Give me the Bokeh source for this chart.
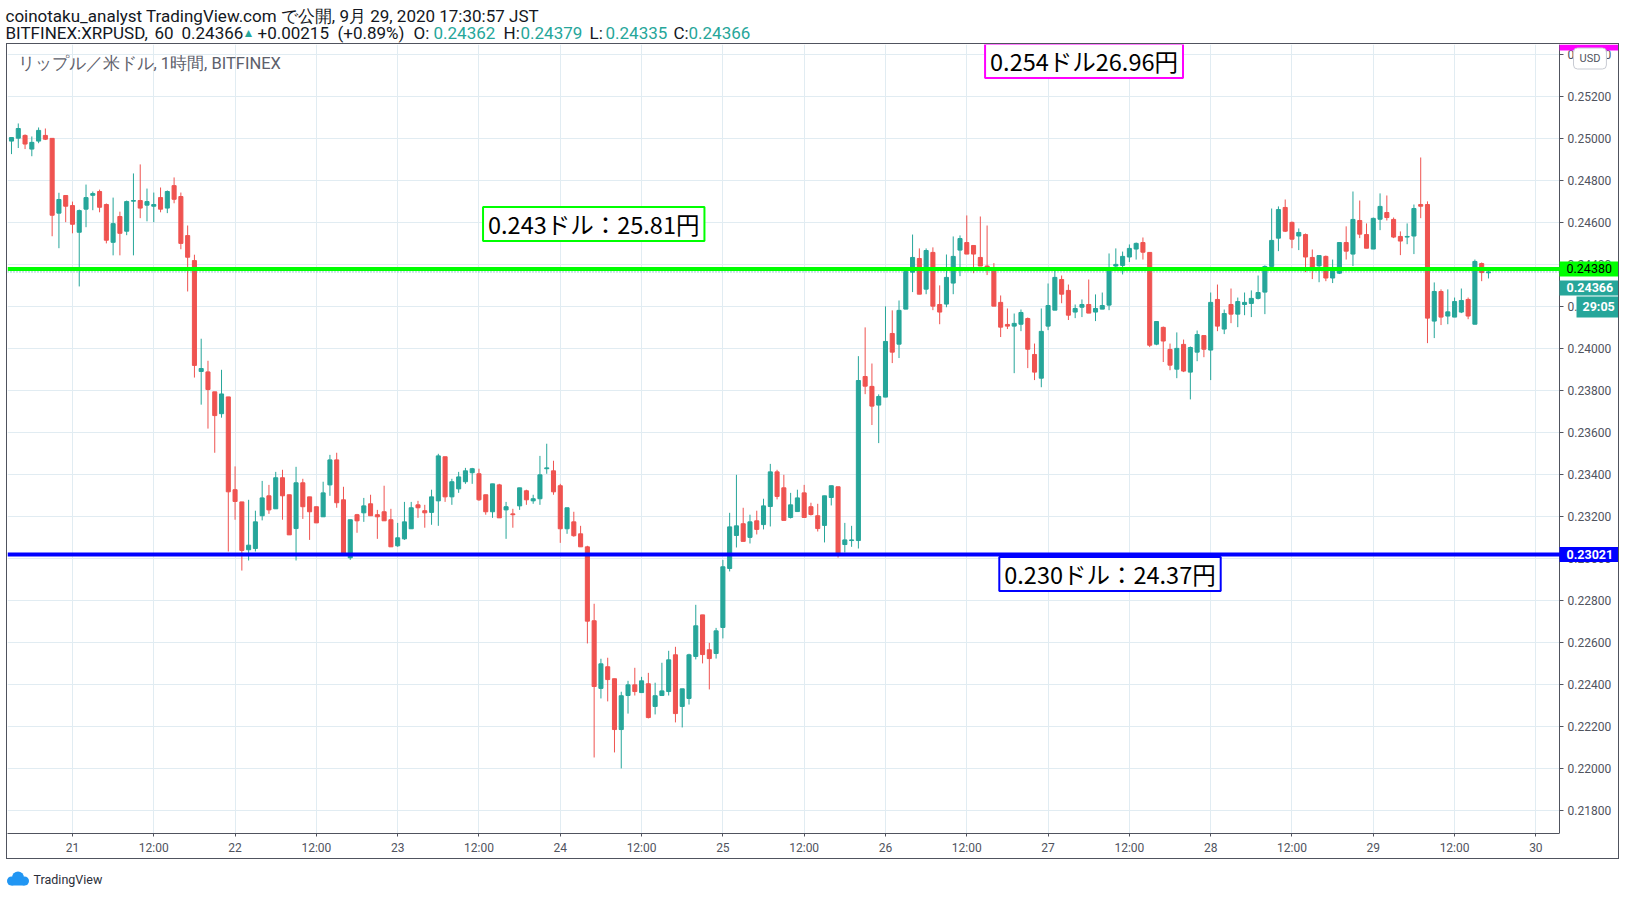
from bokeh.plotting import figure
from bokeh.models import (Range1d, FixedTicker, Label, Span, ColumnDataSource,
                          NumeralTickFormatter, BoxAnnotation, Spacer)
from bokeh.layouts import column, row
from bokeh.embed import file_html
from bokeh.resources import INLINE
from bokeh.core.properties import value

# ---------------- data (XRPUSD 1h, BITFINEX) ----------------
# first candle: 2020-09-20 15:00 JST, expressed as hours since 2020-09-20 00:00
first_hour = 15

opens = [
0.24989,0.25003,0.25016,0.24951,0.24989,0.25016,0.25002,0.24646,0.24730,0.24682,
0.24555,0.24665,0.24731,0.24749,0.24687,0.24507,0.24630,0.24560,0.24703,0.24706,
0.24684,0.24679,0.24720,0.24670,0.24777,0.24725,0.24539,0.24420,0.23892,0.23890,
0.23795,0.23691,0.23771,0.23329,0.23271,0.23043,0.23049,0.23205,0.23300,0.23238,
0.23386,0.23305,0.23144,0.23362,0.23295,0.23248,0.23200,0.23352,0.23471,0.23281,
0.23005,0.23210,0.23219,0.23262,0.23210,0.23224,0.23186,0.23062,0.23095,0.23143,
0.23257,0.23229,0.23221,0.23276,0.23486,0.23295,0.23333,0.23367,0.23410,0.23405,
0.23305,0.23224,0.23352,0.23233,0.23214,0.23252,0.23324,0.23276,0.23286,0.23429,
0.23419,0.23348,0.23143,0.23176,0.23119,0.23057,0.22705,0.22383,0.22486,0.22429,
0.22187,0.22349,0.22400,0.22363,0.22405,0.22297,0.22349,0.22368,0.22543,0.22297,
0.22335,0.22535,0.22733,0.22567,0.22549,0.22673,0.22954,0.23111,0.23167,0.23102,
0.23181,0.23163,0.23249,0.23414,0.23338,0.23197,0.23225,0.23314,0.23248,0.23205,
0.23159,0.23292,0.23343,0.23068,0.23087,0.23087,0.23868,0.23821,0.23732,0.23770,
0.24073,0.24022,0.24189,0.24365,0.24430,0.24284,0.24459,0.24211,0.24213,0.24313,
0.24470,0.24506,0.24492,0.24435,0.24394,0.24375,0.24221,0.24116,0.24108,0.24117,
0.24144,0.23973,0.23860,0.24108,0.24184,0.24330,0.24278,0.24175,0.24198,0.24211,
0.24175,0.24189,0.24208,0.24394,0.24397,0.24437,0.24475,0.24506,0.24459,0.24022,
0.24102,0.23997,0.23903,0.24021,0.23889,0.23984,0.24063,0.23994,0.24235,0.24094,
0.24211,0.24165,0.24211,0.24216,0.24240,0.24270,0.24392,0.24527,0.24673,0.24602,
0.24537,0.24544,0.24435,0.24395,0.24440,0.24337,0.24360,0.24506,0.24451,0.24611,
0.24544,0.24475,0.24617,0.24649,0.24616,0.24535,0.24532,0.24537,0.24687,0.24687,
0.24132,0.24273,0.24156,0.24151,0.24175,0.24235,0.24117,0.24406,0.24362]

highs = [
0.25006,0.25073,0.25021,0.25011,0.25054,0.25049,0.25002,0.24743,0.24730,0.24701,
0.24663,0.24782,0.24749,0.24758,0.24692,0.24720,0.24653,0.24706,0.24835,0.24878,
0.24763,0.24744,0.24768,0.24754,0.24816,0.24744,0.24587,0.24448,0.24048,0.23943,
0.23795,0.23900,0.23771,0.23440,0.23271,0.23281,0.23229,0.23371,0.23352,0.23414,
0.23424,0.23305,0.23438,0.23381,0.23295,0.23248,0.23367,0.23495,0.23505,0.23343,
0.23186,0.23214,0.23290,0.23305,0.23233,0.23348,0.23238,0.23171,0.23271,0.23271,
0.23276,0.23257,0.23329,0.23500,0.23486,0.23381,0.23414,0.23433,0.23433,0.23429,
0.23305,0.23357,0.23357,0.23271,0.23238,0.23338,0.23329,0.23305,0.23490,0.23548,
0.23467,0.23357,0.23243,0.23224,0.23157,0.23062,0.22786,0.22524,0.22529,0.22429,
0.22367,0.22419,0.22481,0.22438,0.22457,0.22410,0.22505,0.22562,0.22581,0.22381,
0.22548,0.22781,0.22733,0.22600,0.22671,0.22995,0.23219,0.23400,0.23243,0.23210,
0.23229,0.23286,0.23452,0.23424,0.23400,0.23314,0.23329,0.23352,0.23267,0.23262,
0.23300,0.23348,0.23343,0.23171,0.23157,0.23965,0.24102,0.23930,0.23783,0.24202,
0.24183,0.24230,0.24370,0.24544,0.24478,0.24478,0.24483,0.24302,0.24449,0.24535,
0.24540,0.24635,0.24492,0.24630,0.24587,0.24408,0.24254,0.24192,0.24168,0.24187,
0.24149,0.24025,0.24192,0.24311,0.24373,0.24349,0.24306,0.24211,0.24235,0.24330,
0.24259,0.24268,0.24454,0.24478,0.24463,0.24497,0.24506,0.24530,0.24459,0.24130,
0.24106,0.24025,0.24078,0.24044,0.24011,0.24087,0.24063,0.24268,0.24306,0.24187,
0.24287,0.24244,0.24268,0.24278,0.24349,0.24397,0.24668,0.24678,0.24711,0.24606,
0.24573,0.24549,0.24473,0.24444,0.24444,0.24425,0.24506,0.24583,0.24749,0.24706,
0.24597,0.24625,0.24740,0.24730,0.24625,0.24559,0.24597,0.24687,0.24911,0.24702,
0.24316,0.24283,0.24283,0.24244,0.24287,0.24244,0.24425,0.24411,0.24379]

lows = [
0.24927,0.24956,0.24951,0.24917,0.24979,0.24994,0.24536,0.24479,0.24603,0.24550,
0.24297,0.24579,0.24660,0.24650,0.24502,0.24445,0.24445,0.24541,0.24445,0.24622,
0.24607,0.24603,0.24650,0.24646,0.24693,0.24474,0.24273,0.23863,0.23734,0.23620,
0.23505,0.23672,0.23035,0.23186,0.22944,0.22992,0.23035,0.23183,0.23214,0.23238,
0.23186,0.23114,0.22992,0.23190,0.23090,0.23171,0.23200,0.23300,0.23243,0.23024,
0.22995,0.23124,0.23176,0.23205,0.23095,0.23181,0.23057,0.23057,0.23090,0.23143,
0.23195,0.23148,0.23162,0.23157,0.23271,0.23257,0.23314,0.23357,0.23357,0.23276,
0.23210,0.23195,0.23195,0.23095,0.23148,0.23233,0.23257,0.23262,0.23257,0.23405,
0.23305,0.23076,0.23119,0.23105,0.23057,0.22597,0.22054,0.22335,0.22321,0.22078,
0.22002,0.22263,0.22349,0.22363,0.22240,0.22259,0.22349,0.22349,0.22221,0.22197,
0.22306,0.22521,0.22502,0.22378,0.22525,0.22621,0.22940,0.23054,0.23083,0.23073,
0.23116,0.23140,0.23154,0.23283,0.23183,0.23192,0.23225,0.23197,0.23206,0.23130,
0.23078,0.23254,0.23006,0.23030,0.23057,0.23049,0.23784,0.23637,0.23551,0.23770,
0.23932,0.23956,0.24189,0.24270,0.24260,0.24260,0.24184,0.24117,0.24198,0.24260,
0.24346,0.24451,0.24360,0.24394,0.24351,0.24203,0.24056,0.24094,0.23884,0.24084,
0.23908,0.23851,0.23817,0.24089,0.24184,0.24217,0.24137,0.24146,0.24151,0.24170,
0.24132,0.24189,0.24184,0.24373,0.24354,0.24413,0.24425,0.24425,0.24008,0.24017,
0.23937,0.23898,0.23860,0.23889,0.23759,0.23941,0.23960,0.23851,0.24084,0.24070,
0.24122,0.24103,0.24160,0.24151,0.24235,0.24165,0.24389,0.24465,0.24556,0.24479,
0.24470,0.24365,0.24332,0.24317,0.24322,0.24313,0.24356,0.24425,0.24394,0.24527,
0.24479,0.24475,0.24565,0.24611,0.24527,0.24446,0.24498,0.24451,0.24622,0.24027,
0.24051,0.24113,0.24117,0.24151,0.24170,0.24141,0.24117,0.24322,0.24335]

closes = [
0.25006,0.25049,0.24975,0.24983,0.25040,0.24998,0.24636,0.24711,0.24679,0.24593,
0.24658,0.24720,0.24739,0.24674,0.24517,0.24596,0.24550,0.24701,0.24706,0.24670,
0.24701,0.24687,0.24665,0.24749,0.24712,0.24502,0.24436,0.23921,0.23906,0.23806,
0.23682,0.23785,0.23319,0.23273,0.23040,0.23065,0.23176,0.23290,0.23233,0.23386,
0.23300,0.23114,0.23362,0.23248,0.23224,0.23171,0.23314,0.23471,0.23267,0.23024,
0.23186,0.23181,0.23252,0.23205,0.23200,0.23181,0.23057,0.23100,0.23176,0.23243,
0.23243,0.23219,0.23295,0.23490,0.23295,0.23367,0.23390,0.23419,0.23429,0.23281,
0.23224,0.23357,0.23195,0.23248,0.23210,0.23338,0.23281,0.23286,0.23400,0.23433,
0.23319,0.23143,0.23243,0.23110,0.23057,0.22703,0.22392,0.22500,0.22425,0.22187,
0.22348,0.22400,0.22368,0.22419,0.22244,0.22348,0.22371,0.22519,0.22263,0.22381,
0.22543,0.22681,0.22544,0.22525,0.22657,0.22962,0.23152,0.23157,0.23083,0.23176,
0.23140,0.23252,0.23414,0.23297,0.23183,0.23257,0.23290,0.23197,0.23211,0.23144,
0.23300,0.23348,0.23019,0.23090,0.23090,0.23849,0.23822,0.23727,0.23773,0.24035,
0.23984,0.24183,0.24368,0.24435,0.24260,0.24468,0.24203,0.24175,0.24340,0.24440,
0.24525,0.24451,0.24451,0.24394,0.24378,0.24203,0.24103,0.24108,0.24121,0.24173,
0.23998,0.23889,0.24083,0.24206,0.24340,0.24260,0.24160,0.24192,0.24211,0.24170,
0.24192,0.24206,0.24373,0.24402,0.24440,0.24478,0.24502,0.24460,0.24017,0.24130,
0.24037,0.23922,0.24002,0.23894,0.24006,0.24068,0.23998,0.24221,0.24108,0.24168,
0.24165,0.24225,0.24221,0.24240,0.24268,0.24392,0.24516,0.24663,0.24560,0.24522,
0.24554,0.24437,0.24386,0.24444,0.24337,0.24387,0.24506,0.24465,0.24616,0.24546,
0.24479,0.24621,0.24678,0.24625,0.24532,0.24513,0.24535,0.24668,0.24679,0.24146,
0.24273,0.24151,0.24176,0.24225,0.24230,0.24156,0.24416,0.24363,0.24366]

price_ticks = [0.218, 0.220, 0.222, 0.224, 0.226, 0.228, 0.230, 0.232, 0.234, 0.236,
               0.238, 0.240, 0.242, 0.244, 0.246, 0.248, 0.250, 0.252, 0.254]
time_ticks = [24, 36, 48, 60, 72, 84, 96, 108, 120, 132, 144, 156, 168, 180, 192, 204, 216, 228, 240]
time_labels = ["21", "12:00", "22", "12:00", "23", "12:00", "24", "12:00", "25", "12:00",
               "26", "12:00", "27", "12:00", "28", "12:00", "29", "12:00", "30"]

# horizontal levels drawn on the chart
level_prices = [0.2438, 0.23021]
level_colors = ["#00ff00", "#0000ff"]
level_text_colors = ["#000000", "#ffffff"]
level_text_styles = ["normal", "bold"]
top_level_price = 0.25463          # magenta level, above the visible range
top_level_color = "#ff00ff"
last_price = 0.24366
countdown = "29:05"

# text notes (anchored at hour, price)
note_texts = ["0.254ドル26.96円", "0.243ドル：25.81円", "0.230ドル：24.37円"]
note_hours = [158.7, 84.6, 160.8]
note_prices = [0.25371, 0.24594, 0.22928]
note_colors = ["#ff00ff", "#00ff00", "#0000ff"]

header_line1 = "coinotaku_analyst TradingView.com で公開, 9月 29, 2020 17:30:57 JST"
header_line2 = ["BITFINEX:XRPUSD,", "60", "0.24366", "▲", "+0.00215", "(+0.89%)", "O:", "0.24362",
                "H:", "0.24379", "L:", "0.24335", "C:", "0.24366"]
legend_text = "リップル／米ドル, 1時間, BITFINEX"

# ---------------- styling / layout ----------------
UP = "#26a69a"
DOWN = "#ef5350"
GRID = "#e1ecf2"
AXIS = "#50535e"
TXT = "#131722"
FONT = "Roboto"
W = 1621
X_START, AXIS_HOUR, X_END = 14.41, 243.49, 252.49
Y_START, Y_END = 0.21692, 0.25449

n = len(opens)
hours = [first_hour + i for i in range(n)]
colors = [UP if c >= o else DOWN for o, c in zip(opens, closes)]
src = ColumnDataSource(dict(
    x=hours, open=opens, high=highs, low=lows, close=closes,
    top=[max(o, c) for o, c in zip(opens, closes)],
    bottom=[min(o, c) for o, c in zip(opens, closes)],
    color=colors))

# ---------------- header ----------------
hdr = figure(width=W, height=43, x_range=Range1d(0, W), y_range=Range1d(0, 43),
             output_backend="svg", toolbar_location=None, min_border=0)
hdr.axis.visible = False
hdr.grid.visible = False
hdr.outline_line_color = None
hdr.background_fill_color = "white"
hdr.border_fill_color = "white"
hdr.text(x=[5], y=[28], text=[header_line1], text_color=TXT, text_font=value(FONT),
         text_font_size="17px", text_baseline="middle")
seg_x = [5, 154, 181, 242, 257, 337, 413, 433, 503, 520, 589, 605, 673, 688]
seg_c = [TXT, TXT, TXT, UP, TXT, TXT, TXT, UP, TXT, UP, TXT, UP, TXT, UP]
seg_s = ["17px"] * 3 + ["12px"] + ["17px"] * 10
hdr.text(x=seg_x, y=[11] * len(seg_x), text=header_line2, text_color=seg_c,
         text_font=value(FONT), text_font_size=seg_s, text_baseline="middle")

# ---------------- main chart ----------------
p = figure(width=1613, height=816, x_range=Range1d(X_START, X_END), y_range=Range1d(Y_START, Y_END),
           output_backend="svg", toolbar_location=None, y_axis_location="right",
           min_border_left=0, min_border_top=0, min_border_right=0, min_border_bottom=27)
p.styles = {"border": "1px solid #50535e"}
p.background_fill_color = "white"
p.border_fill_color = "white"
p.outline_line_color = None

yt = FixedTicker(ticks=price_ticks)
xt = FixedTicker(ticks=time_ticks)
p.yaxis.ticker = yt
p.xaxis.ticker = xt
p.ygrid.ticker = yt
p.xgrid.ticker = xt
p.grid.grid_line_color = GRID
p.grid.grid_line_width = 1

p.yaxis.fixed_location = AXIS_HOUR
p.xaxis.bounds = (X_START, AXIS_HOUR)
p.yaxis.formatter = NumeralTickFormatter(format="0.00000")
p.xaxis.major_label_overrides = {t: l for t, l in zip(time_ticks, time_labels)}
for ax in (p.xaxis[0], p.yaxis[0]):
    ax.axis_line_color = AXIS
    ax.major_tick_line_color = AXIS
    ax.minor_tick_line_color = None
    ax.major_tick_in = 0
    ax.major_tick_out = 4
    ax.major_label_text_color = AXIS
    ax.major_label_text_font = FONT
    ax.major_label_text_font_size = "12px"
    ax.major_label_standoff = 4
p.xaxis.major_tick_out = 3

# white price-scale background (covers the grid right of the scale line)
p.add_layout(BoxAnnotation(left=AXIS_HOUR, fill_color="white", fill_alpha=1.0,
                           line_color=None, level="underlay"))

p.segment(x0="x", y0="low", x1="x", y1="high", line_color="color", line_width=1, source=src)
p.vbar(x="x", width=0.6, top="top", bottom="bottom", fill_color="color",
       line_color="color", line_width=1, source=src)

p.add_layout(Span(location=last_price, dimension="width", line_color=UP,
                  line_width=1, line_dash="1 2"))
for lp, lc in zip(level_prices, level_colors):
    p.add_layout(Span(location=lp, dimension="width", line_color=lc, line_width=4))

# notes
for t, h, pr, c in zip(note_texts, note_hours, note_prices, note_colors):
    p.add_layout(Label(x=h, y=pr, text=t, text_font="Noto Sans CJK JP", text_font_size="23.5px",
                       text_color="#000000", text_align="left", text_baseline="middle",
                       background_fill_color="white", border_line_color=c, border_line_width=2,
                       padding=dict(left=5, right=5, top=0, bottom=0)))

# legend text
p.add_layout(Label(x=10, y=770, x_units="screen", y_units="screen", text=legend_text,
                   text_font=FONT, text_font_size="16.5px", text_color="#5d606b",
                   text_baseline="middle"))

# price-scale labels
for lp, lc, tc, ts in zip(level_prices, level_colors, level_text_colors, level_text_styles):
    p.add_layout(Label(x=AXIS_HOUR, y=lp, text="%.5f" % lp, text_font=FONT,
                       text_font_size="12.5px", text_font_style=ts, text_color=tc,
                       text_align="left", text_baseline="middle", background_fill_color=lc,
                       padding=dict(left=7, right=12, top=3, bottom=3)))
p.add_layout(Label(x=AXIS_HOUR, y=last_price, y_offset=-16, text="%.5f" % last_price,
                   text_font=FONT, text_font_size="12.5px", text_font_style="bold",
                   text_color="white", text_align="left", text_baseline="middle",
                   background_fill_color=UP, padding=dict(left=7, right=12, top=3, bottom=3)))
p.add_layout(Label(x=AXIS_HOUR, y=last_price, x_offset=17, y_offset=-35, text=countdown,
                   text_font=FONT, text_font_size="12.5px", text_font_style="bold",
                   text_color="white", text_align="left", text_baseline="middle",
                   background_fill_color=UP, padding=dict(left=6, right=6, top=3, bottom=3)))
# magenta level label (mostly above the visible range)
p.add_layout(BoxAnnotation(left=AXIS_HOUR, bottom=top_level_price - 0.00043,
                           fill_color=top_level_color, fill_alpha=1.0, line_color=None))
p.add_layout(Label(x=AXIS_HOUR, y=775, y_units="screen", x_offset=14, text="USD",
                   text_font=FONT, text_font_size="11px", text_color=AXIS, text_align="left",
                   text_baseline="middle", background_fill_color="white",
                   border_line_color="#c8cbd3", border_line_width=1, border_radius=4,
                   padding=dict(left=6, right=6, top=4, bottom=4)))

# ---------------- footer ----------------
ftr = figure(width=W, height=30, x_range=Range1d(0, W), y_range=Range1d(0, 30),
             output_backend="svg", toolbar_location=None, min_border=0)
ftr.axis.visible = False
ftr.grid.visible = False
ftr.outline_line_color = None
ftr.background_fill_color = "white"
ftr.border_fill_color = "white"
# logo mark (simple blue cloud)
logo_x = [11, 17.5, 24]
logo_y = [10.5, 14, 10.5]
logo_r = [4.5, 6, 4.5]
ftr.circle(x=logo_x, y=logo_y, radius=logo_r, fill_color="#2196f3", line_color=None)
ftr.quad(left=[11], right=[24], bottom=[6], top=[11], fill_color="#2196f3", line_color=None)
ftr.text(x=[33], y=[12], text=["TradingView"], text_color="#2a2e39", text_font=value(FONT),
         text_font_size="12.5px", text_baseline="middle")

layout = column(hdr, row(Spacer(width=6, height=818), p), ftr)
open("out.html", "w").write(file_html(layout, INLINE))
